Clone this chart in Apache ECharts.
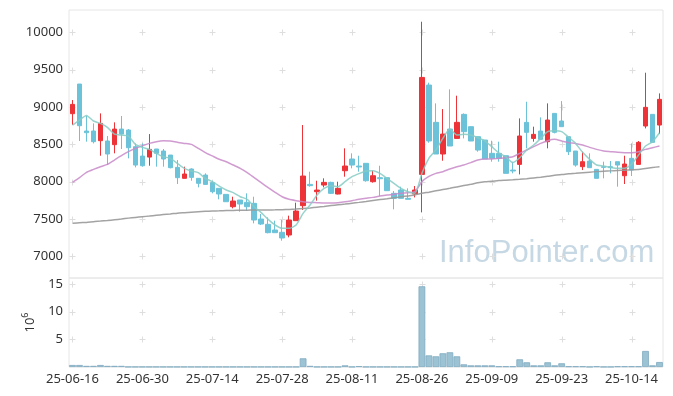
<!DOCTYPE html>
<html><head><meta charset="utf-8">
<script src="https://cdn.jsdelivr.net/npm/echarts@6/dist/echarts.min.js"></script>
<style>html,body{margin:0;padding:0;background:#fff}#c{width:673px;height:396px}</style>
</head><body><div id="c"></div>
<script>
const dates = ['25-06-16','25-06-17','25-06-18','25-06-19','25-06-20','25-06-23','25-06-24','25-06-25','25-06-26','25-06-27','25-06-30',
'25-07-01','25-07-02','25-07-03','25-07-04','25-07-07','25-07-08','25-07-09','25-07-10','25-07-11','25-07-14','25-07-15','25-07-16','25-07-17','25-07-18','25-07-21','25-07-22','25-07-23','25-07-24','25-07-25','25-07-28','25-07-29','25-07-30','25-07-31',
'25-08-01','25-08-04','25-08-05','25-08-06','25-08-07','25-08-08','25-08-11','25-08-12','25-08-13','25-08-14','25-08-18','25-08-19','25-08-20','25-08-21','25-08-22','25-08-25','25-08-26','25-08-27','25-08-28','25-08-29',
'25-09-01','25-09-02','25-09-03','25-09-04','25-09-05','25-09-08','25-09-09','25-09-10','25-09-11','25-09-12','25-09-15','25-09-16','25-09-17','25-09-18','25-09-19','25-09-22','25-09-23','25-09-24','25-09-25','25-09-26','25-09-29','25-09-30',
'25-10-01','25-10-02','25-10-10','25-10-13','25-10-14','25-10-15','25-10-16','25-10-17','25-10-20'];

const opens  = [8911,9308,8679,8679,8549,8545,8496,8705,8692,8469,8344,8330,8438,8411,8357,8192,8045,8170,8045,8089,7987,7911,7830,7665,7755,7723,7710,7500,7429,7353,7322,7286,7478,7679,7964,7866,7955,7991,7835,8147,8304,8210,8246,8000,8054,8054,7844,7889,7777,7835,8098,9295,8795,8371,8705,8580,8902,8737,8603,8558,8380,8380,8348,8156,8232,8795,8580,8679,8536,8915,8813,8603,8411,8201,8277,8165,8201,8201,8268,8080,8313,8232,8746,8902,8759];
const closes = [9036,8750,8656,8536,8781,8371,8705,8638,8455,8223,8214,8433,8380,8304,8188,8054,8103,8058,7978,7964,7866,7835,7732,7741,7701,7665,7487,7433,7317,7317,7246,7487,7607,8076,7947,7888,7991,7844,7911,8210,8223,8197,8013,8080,8040,7880,7777,7777,7764,7889,9397,8545,8371,8638,8478,8795,8670,8545,8424,8304,8313,8313,8112,8143,8612,8661,8634,8567,8826,8661,8737,8402,8223,8268,8188,8045,8192,8188,8223,8237,8156,8527,8996,8527,9103];
const lows   = [8759,8545,8536,8513,8348,8223,8380,8438,8313,8192,8201,8214,8201,8201,8179,7969,8045,8013,7924,7964,7844,7764,7732,7643,7598,7612,7442,7420,7308,7317,7210,7255,7478,7621,7933,7746,7924,7835,7830,8067,8179,8134,8000,7987,7808,7875,7630,7777,7764,7790,7589,8522,8371,8281,8478,8580,8580,8545,8402,8304,8268,8268,8112,8112,8098,8447,8536,8567,8447,8647,8737,8357,8201,8156,8188,8045,8045,8112,7933,7969,8076,8232,8714,8527,8638];
const highs  = [9094,9308,8880,8781,8915,8612,8795,8880,8705,8513,8513,8638,8438,8438,8357,8290,8201,8179,8045,8112,8013,7911,7830,7799,7755,7844,7799,7567,7522,7478,7487,7545,7719,8759,8134,8013,8045,8000,8000,8447,8380,8348,8246,8147,8214,8054,7875,7933,7911,7942,10143,9326,9049,8973,9237,9152,8915,8737,8603,8558,8549,8536,8348,8268,8848,9071,8737,8862,9049,8915,9080,8603,8411,8402,8380,8165,8268,8277,8268,8348,8513,8545,9460,8902,9183];

const ma5  = [8759,8826,8888,8813,8781,8728,8638,8625,8612,8500,8460,8433,8380,8335,8313,8246,8179,8143,8121,8045,8000,7940,7889,7853,7799,7764,7665,7585,7496,7420,7375,7375,7420,7576,7688,7822,7911,7947,7933,8000,8067,8108,8143,8147,8112,8045,7978,7911,7866,7844,8112,8313,8424,8580,8705,8625,8634,8625,8589,8547,8469,8385,8335,8255,8320,8424,8491,8580,8670,8683,8670,8594,8513,8393,8299,8223,8210,8192,8179,8179,8232,8357,8478,8536,8656];
const ma20 = [7991,8054,8125,8165,8201,8232,8290,8348,8402,8447,8482,8513,8536,8549,8545,8527,8513,8500,8447,8390,8345,8300,8268,8223,8179,8121,8054,7987,7920,7857,7799,7764,7746,7732,7723,7719,7714,7714,7719,7730,7746,7764,7777,7790,7808,7822,7830,7844,7853,7866,8000,8070,8112,8134,8170,8201,8223,8255,8290,8304,8304,8313,8322,8335,8380,8424,8469,8513,8549,8567,8545,8522,8513,8491,8460,8433,8411,8402,8393,8389,8389,8402,8433,8456,8478];
const ma60 = [7442,7450,7455,7465,7472,7480,7490,7500,7512,7522,7531,7540,7550,7560,7568,7578,7585,7592,7598,7603,7607,7610,7613,7615,7617,7619,7620,7621,7622,7623,7625,7628,7633,7640,7648,7658,7668,7680,7690,7700,7712,7723,7735,7748,7760,7772,7785,7798,7810,7822,7844,7860,7878,7895,7912,7930,7948,7965,7985,7998,8005,8015,8020,8025,8032,8040,8050,8060,8072,8085,8095,8105,8112,8120,8128,8135,8140,8145,8150,8155,8160,8165,8178,8190,8201];

const volume = [0.36,0.36,0.2,0.2,0.36,0.2,0.2,0.2,0.03,0.03,0.03,0.03,0.03,0.03,0.03,0.03,0.03,0.03,0.03,0.03,0.03,0.03,0.03,0.03,0.03,0.03,0.03,0.03,0.03,0.03,0.03,0.03,0.03,1.57,0.2,0.03,0.03,0.03,0.03,0.3,0.03,0.15,0.03,0.03,0.03,0.03,0.03,0.03,0.03,0.03,14.6,2.1,1.93,2.48,2.66,1.93,0.48,0.3,0.3,0.3,0.3,0.12,0.12,0.12,1.39,0.85,0.3,0.3,0.85,0.3,0.67,0.12,0.12,0.12,0.03,0.12,0.03,0.03,0.12,0.12,0.12,0.12,2.9,0.3,0.9];

const priceTicks = [7000,7500,8000,8500,9000,9500,10000];
const volumeTicks = [5,10,15];
const labelEvery = 10;

const FONT = '"Noto Sans", sans-serif';
const candleData = opens.map((o,i)=>[o, closes[i], lows[i], highs[i]]);
const tickCats = dates.map((d,i)=>i).filter(i=>i % labelEvery === 0);
const crossPrice = [], crossVol = [];
tickCats.forEach(c=>{ priceTicks.forEach(v=>crossPrice.push([c,v])); volumeTicks.forEach(v=>crossVol.push([c,v])); });

function crossRender(params, api){
  const p = api.coord([api.value(0), api.value(1)]);
  const x = Math.round(p[0]) + 0.5, y = Math.round(p[1]) + 0.5;
  const st = {stroke:'#dedede', lineWidth:1};
  return {type:'group', children:[
    {type:'line', shape:{x1:x-3, y1:y, x2:x+3, y2:y}, style:st},
    {type:'line', shape:{x1:x, y1:y-3, x2:x, y2:y+3}, style:st}
  ]};
}

const chart = echarts.init(document.getElementById('c'), null, {renderer:'canvas'});
chart.setOption({
  animation:false,
  backgroundColor:'#ffffff',
  graphic:[{type:'text', left:439, top:238, z:-10, silent:true,
    style:{text:'InfoPointer.com', fill:'#c6d8e4', font:'31px "Liberation Sans", Arial, sans-serif'}}],
  grid:[
    {left:69, top:10, width:594, height:268, show:true, borderColor:'#e6e6e6', borderWidth:1, backgroundColor:'transparent'},
    {left:69, top:278, width:594, height:89, show:true, borderColor:'#e6e6e6', borderWidth:1, backgroundColor:'transparent'}
  ],
  xAxis:[
    {type:'category', gridIndex:0, data:dates, boundaryGap:true, axisLine:{show:false}, axisTick:{show:false}, axisLabel:{show:false}, splitLine:{show:false}},
    {type:'category', gridIndex:1, data:dates, boundaryGap:true, axisLine:{show:false}, axisTick:{show:false},
      axisLabel:{interval:labelEvery-1, color:'#333', fontSize:13, margin:6, fontFamily:FONT}, splitLine:{show:false}}
  ],
  yAxis:[
    {type:'value', gridIndex:0, min:6710, max:10300, axisLine:{show:false}, axisTick:{show:false}, splitLine:{show:false},
      axisLabel:{customValues:priceTicks, formatter:v=>String(v), color:'#333', fontSize:13, margin:6, fontFamily:FONT}},
    {type:'value', gridIndex:1, min:0, max:16.1, interval:5, axisLine:{show:false}, axisTick:{show:false}, splitLine:{show:false},
      axisLabel:{customValues:volumeTicks, formatter:v=>String(v), color:'#333', fontSize:13, margin:6, fontFamily:FONT},
      name:'{b|10}{s|6}', nameLocation:'middle', nameRotate:90, nameGap:30,
      nameTextStyle:{color:'#333', fontFamily:FONT, rich:{b:{fontSize:13, lineHeight:16, verticalAlign:'bottom', fontFamily:FONT, color:'#333'}, s:{fontSize:9, lineHeight:10, verticalAlign:'top', fontFamily:FONT, color:'#333'}}}}
  ],
  series:[
    {type:'custom', xAxisIndex:0, yAxisIndex:0, data:crossPrice, renderItem:crossRender, silent:true, z:1},
    {type:'custom', xAxisIndex:1, yAxisIndex:1, data:crossVol, renderItem:crossRender, silent:true, z:1},
    {type:'candlestick', xAxisIndex:0, yAxisIndex:0, data:candleData, barWidth:5,
      itemStyle:{color:'#ee3338', color0:'#6cc3d9', borderColor:'#ee3338', borderColor0:'#6cc3d9', borderWidth:1}, z:3},
    {type:'line', xAxisIndex:0, yAxisIndex:0, data:ma60, showSymbol:false, smooth:0.2, lineStyle:{color:'#999999', width:1.5, opacity:0.9}, z:4},
    {type:'line', xAxisIndex:0, yAxisIndex:0, data:ma20, showSymbol:false, smooth:0.2, lineStyle:{color:'#c88ac8', width:1.5, opacity:0.85}, z:4},
    {type:'line', xAxisIndex:0, yAxisIndex:0, data:ma5, showSymbol:false, smooth:0.2, lineStyle:{color:'#86cbc4', width:1.5, opacity:0.85}, z:4},
    {type:'bar', xAxisIndex:1, yAxisIndex:1, data:volume, barCategoryGap:'4%',
      itemStyle:{color:'#9cc3d3', borderColor:'#7faac0', borderWidth:0.8}, z:3}
  ]
});
</script></body></html>
